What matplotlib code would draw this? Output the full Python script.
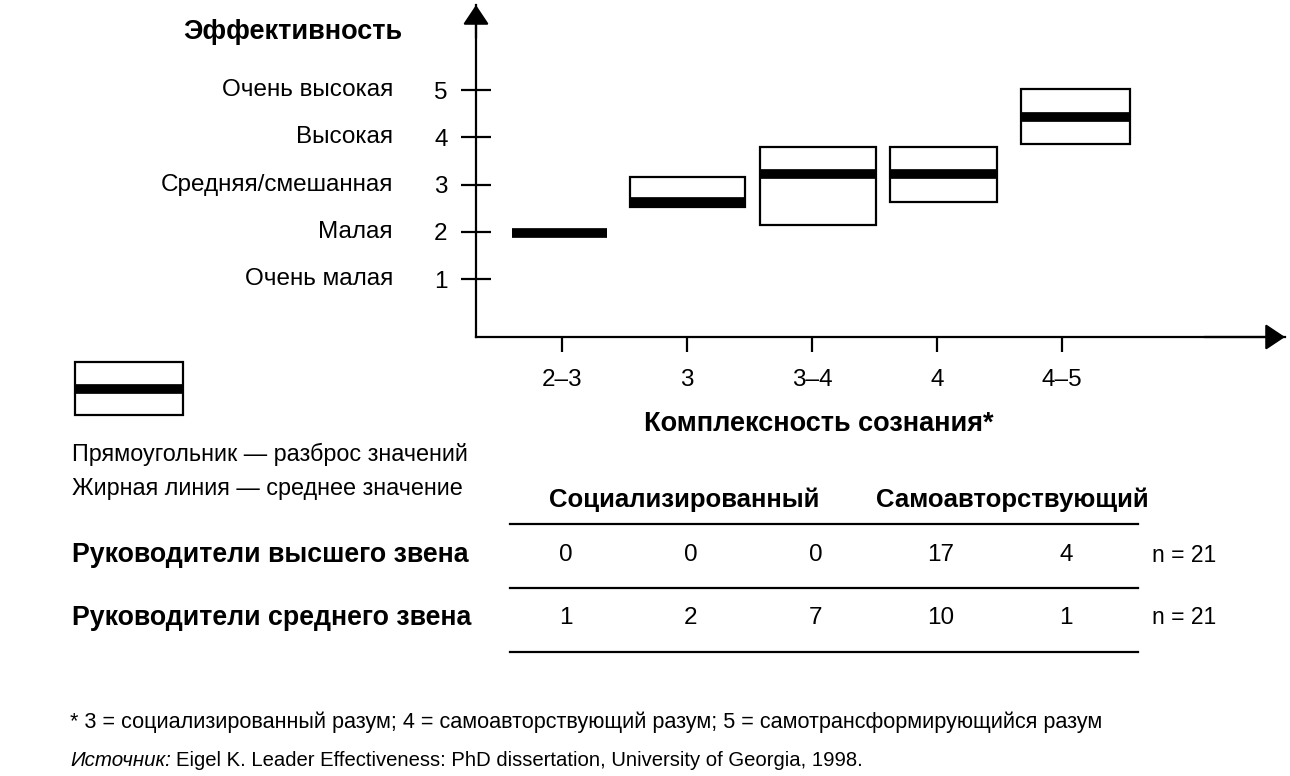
import matplotlib
matplotlib.use("Agg")
import matplotlib.pyplot as plt
from matplotlib.patches import Rectangle
from matplotlib.transforms import blended_transform_factory

plt.rcParams["font.family"] = ["Liberation Sans", "DejaVu Sans"]

# данные
categories = ["2–3", "3", "3–4", "4", "4–5"]
range_low = [2.0, 2.52, 2.14, 2.63, 3.86]
range_high = [2.0, 3.16, 3.79, 3.79, 5.02]
mean_vals = [1.98, 2.63, 3.22, 3.22, 4.43]
levels = [1, 2, 3, 4, 5]
level_names = ["Очень малая", "Малая", "Средняя/смешанная", "Высокая", "Очень высокая"]
groups = ["Социализированный", "Самоавторствующий"]
rows = ["Руководители высшего звена", "Руководители среднего звена"]
counts_top = [0, 0, 0, 17, 4]
counts_mid = [1, 2, 7, 10, 1]
n_total = [21, 21]

# горизонтальные границы прямоугольников (в единицах оси x)
box_span = [(0.60, 1.36), (1.54, 2.46), (2.58, 3.51), (3.62, 4.48), (4.67, 5.54)]

W, H = 1290, 776
fig = plt.figure(figsize=(W / 100, H / 100), dpi=100)


def fx(px):
    return px / W


def fy(py):
    return 1 - py / H


ax = fig.add_axes([fx(476), fy(337), fx(1285) - fx(476), fy(5) - fy(337)])
x_pos = list(range(1, len(categories) + 1))
ax.set_xlim(0.312, 6.784)
ax.set_ylim(-0.227, 6.8)

for (x0, x1), lo, hi, m in zip(box_span, range_low, range_high, mean_vals):
    if hi > lo:
        ax.add_patch(Rectangle((x0, lo), x1 - x0, hi - lo, fill=False,
                               edgecolor="black", lw=1.6))
    ax.plot([x0, x1], [m, m], color="black", lw=7, solid_capstyle="butt")

for s in ["top", "right"]:
    ax.spines[s].set_visible(False)
for s in ["left", "bottom"]:
    ax.spines[s].set_linewidth(1.6)

arrow = dict(arrowstyle="-|>,head_length=0.6,head_width=0.4", lw=1.6,
             color="black", mutation_scale=20, shrinkA=0, shrinkB=0)
ax.annotate("", xy=(0, 1), xytext=(0, 0.9), xycoords="axes fraction", arrowprops=arrow)
ax.annotate("", xy=(1, 0), xytext=(0.9, 0), xycoords="axes fraction", arrowprops=arrow)

ax.set_yticks(levels)
ax.set_yticklabels([str(v) for v in levels], fontsize=17.5)
ax.tick_params(axis="y", direction="inout", length=21, width=1.6, pad=10)
ax.set_xticks(x_pos)
ax.set_xticklabels(categories, fontsize=17.5)
ax.tick_params(axis="x", direction="out", length=11, width=1.6, pad=12)

ylab = blended_transform_factory(fig.transFigure, ax.transData)
for v, name in zip(levels, level_names):
    fig.text(fx(393), v, name, transform=ylab, ha="right", va="center", fontsize=17.5)

fig.text(fx(183), fy(32), "Эффективность", fontsize=19.5, fontweight="bold",
         ha="left", va="center")
fig.text(fx(819), fy(424), "Комплексность сознания*", fontsize=19.5,
         fontweight="bold", ha="center", va="center")

# легенда
fig.patches.append(Rectangle((fx(75), fy(415)), fx(183) - fx(75), fy(362) - fy(415),
                             fill=False, edgecolor="black", lw=1.6,
                             transform=fig.transFigure, figure=fig))
fig.lines.append(plt.Line2D([fx(76), fx(182)], [fy(389), fy(389)], color="black",
                            lw=7, solid_capstyle="butt", transform=fig.transFigure,
                            figure=fig))
fig.text(fx(72), fy(454), "Прямоугольник — разброс значений", fontsize=16.8,
         va="center")
fig.text(fx(72), fy(489), "Жирная линия — среднее значение", fontsize=16.8,
         va="center")

# таблица
fig.text(fx(684), fy(500), groups[0], fontsize=18.5, fontweight="bold",
         ha="center", va="center")
fig.text(fx(1012), fy(500), groups[1], fontsize=18.5, fontweight="bold",
         ha="center", va="center")
for py in [524, 588, 652]:
    fig.lines.append(plt.Line2D([fx(510), fx(1138)], [fy(py), fy(py)], color="black",
                                lw=1.6, transform=fig.transFigure, figure=fig))

colx = blended_transform_factory(ax.transData, fig.transFigure)
for row_name, vals, n, py in zip(rows, [counts_top, counts_mid], n_total, [555, 618]):
    fig.text(fx(72), fy(py), row_name, fontsize=19.3, fontweight="bold", va="center")
    for xp, v in zip(x_pos, vals):
        fig.text(xp + 0.03, fy(py), str(v), transform=colx, fontsize=17.5,
                 ha="center", va="center")
    fig.text(fx(1152), fy(py), f"n = {n}", fontsize=16.5, va="center")

fig.text(fx(70), fy(722), "* 3 = социализированный разум; 4 = самоавторствующий разум; "
         "5 = самотрансформирующийся разум", fontsize=15.6, va="center")
t = fig.text(fx(70), fy(760), "Источник:", fontsize=14.8, style="italic", va="center")
fig.canvas.draw()
bb = t.get_window_extent()
fig.text(bb.x1 / W + fx(5), fy(760), "Eigel K. Leader Effectiveness: PhD dissertation, "
         "University of Georgia, 1998.", fontsize=14.6, va="center")

fig.savefig("out.png", dpi=100)
